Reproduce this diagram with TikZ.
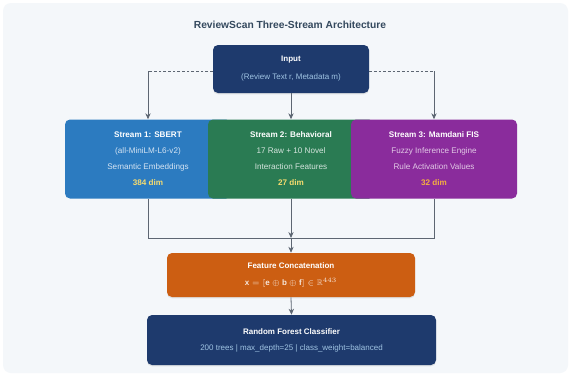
\documentclass[tikz,border=0pt]{standalone}
\usepackage{fontspec}
\setmainfont{Liberation Sans}
\usepackage{amsmath,amssymb}
\usepackage{tikz}
\usetikzlibrary{arrows.meta,shadows}

\definecolor{panelbg}{HTML}{F4F7FA}
\definecolor{titlegray}{HTML}{34495E}
\definecolor{navyfill}{HTML}{1E3A6D}
\definecolor{sbertblue}{HTML}{2C7BC0}
\definecolor{behavgreen}{HTML}{2A7B53}
\definecolor{fispurple}{HTML}{8A2C9C}
\definecolor{concatorange}{HTML}{CC5E12}
\definecolor{linkgray}{HTML}{5D6672}
\definecolor{dimyellow}{HTML}{F7DC6F}
\definecolor{dimorange}{HTML}{F5B041}

\begin{document}
\begin{tikzpicture}[x=0.75pt,y=0.75pt,yscale=-1,xscale=1,
  block/.style={rounded corners=3.75pt, inner sep=0pt, text=white, align=center},
  shadowed/.style={drop shadow={opacity=0.18, shadow xshift=0pt, shadow yshift=-1pt}},
  inputbox/.style={block, shadowed, fill=navyfill, minimum width=117pt, minimum height=36pt,
    font=\fontsize{6}{13.5}\selectfont},
  streambox/.style={block, minimum width=124.5pt, minimum height=59.25pt,
    font=\fontsize{6.1}{12}\selectfont},
  concatbox/.style={block, shadowed, fill=concatorange, minimum width=186pt, minimum height=33pt,
    font=\fontsize{6}{12.75}\selectfont},
  rfbox/.style={block, shadowed, fill=navyfill, minimum width=216.75pt, minimum height=37.5pt,
    font=\fontsize{6}{12}\selectfont},
  link/.style={draw=linkgray, line width=0.6pt},
  arr/.style={link, -{Stealth[length=4.5pt,width=4pt]}}]
\path[use as bounding box] (0,0) rectangle (571,376);
\fill[white] (0,0) rectangle (571,376);
\fill[panelbg, rounded corners=6pt] (3,3) rectangle (568,373);

% Title
\node[font=\bfseries\fontsize{7.7}{9}\selectfont, text=titlegray] (title) at (290,25) {ReviewScan Three-Stream Architecture};

% Input
\node[inputbox] (input) at (291,69) {\textbf{Input}\\ \textcolor{sbertblue!45!white}{(Review Text r, Metadata m)}};

% Streams (each one drawn over the one before)
\node[streambox, fill=sbertblue] (sbert) at (148,159) {\textbf{Stream 1: SBERT}\\
  \textcolor{white!80!sbertblue}{(all-MiniLM-L6-v2)}\\
  \textcolor{white!80!sbertblue}{Semantic Embeddings}\\
  \textcolor{dimyellow}{\textbf{384 dim}}};
\node[streambox, fill=behavgreen] (behav) at (291,159) {\textbf{Stream 2: Behavioral}\\
  \textcolor{white!80!behavgreen}{17 Raw + 10 Novel}\\
  \textcolor{white!80!behavgreen}{Interaction Features}\\
  \textcolor{dimyellow}{\textbf{27 dim}}};
\node[streambox, fill=fispurple] (fis) at (434,159) {\textbf{Stream 3: Mamdani FIS}\\
  \textcolor{white!75!fispurple}{Fuzzy Inference Engine}\\
  \textcolor{white!75!fispurple}{Rule Activation Values}\\
  \textcolor{dimorange}{\textbf{32 dim}}};

% Concatenation and classifier
\node[concatbox] (concat) at (291,275) {\textbf{Feature Concatenation}\\
  \textcolor{white!85!concatorange}{$\mathbf{x} = [\mathbf{e} \oplus \mathbf{b} \oplus \mathbf{f}] \in \mathbb{R}^{443}$}};
\node[rfbox] (rf) at (291.5,340) {\textbf{Random Forest Classifier}\\
  \textcolor{sbertblue!45!white}{200 trees | max\_depth=25 | class\_weight=balanced}};

% fan out from input
\coordinate (leftturn) at (148,71);
\coordinate (rightturn) at (434,71);
\draw[link, dashed, dash pattern=on 2pt off 1.5pt] (input.west |- leftturn) -- (leftturn);
\draw[link, dashed, dash pattern=on 2pt off 1.5pt] (input.east |- rightturn) -- (rightturn);
\draw[arr] (leftturn) -- (sbert.north);
\draw[arr] (rightturn) -- (fis.north);
\draw[arr] (input.south) -- (behav.north);

% merge into concatenation
\coordinate (merge) at (291,238);
\draw[link] (sbert.south) -- (sbert.south |- merge) -- (fis.south |- merge) -- (fis.south);
\draw[arr] (behav.south) -- (merge);
\draw[arr] (merge) -- (concat.north);
\draw[arr] (concat.south) -- (rf.north);

\end{tikzpicture}
\end{document}
